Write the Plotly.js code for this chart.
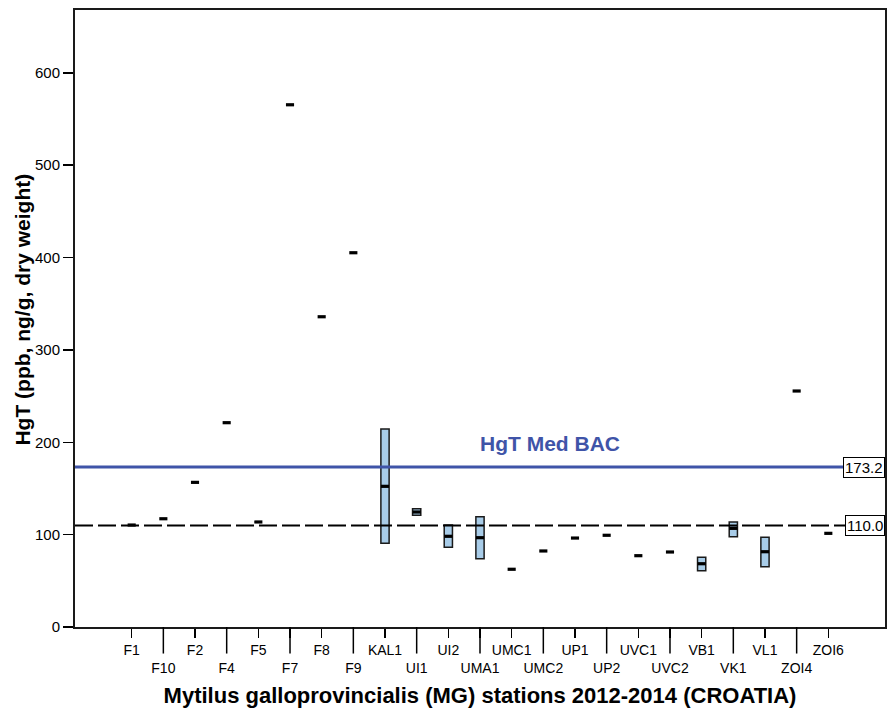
<!DOCTYPE html>
<html>
<head>
<meta charset="utf-8">
<script src="https://cdn.plot.ly/plotly-3.0.1.min.js"></script>
<style>html,body{margin:0;padding:0;background:#fff;}#chart{width:893px;height:714px;}</style>
</head>
<body>
<div id="chart"></div>
<script>
// Stations (x categories)
var stations = ["F1","F10","F2","F4","F5","F7","F8","F9","KAL1","UI1","UI2","UMA1","UMC1","UMC2","UP1","UP2","UVC1","UVC2","VB1","VK1","VL1","ZOI4","ZOI6"];
// Median HgT (ppb, ng/g dry weight)
var medians = [110.4,117.2,156.6,221.2,113.7,565.4,335.9,405.2,152.3,124.5,98.2,96.7,62.5,82.3,96.3,99.3,77.2,81.2,68.5,106.8,81.5,255.5,101.4];
// Box lower / upper edges (null = single value)
var boxLow  = [null,null,null,null,null,null,null,null,90.6,120.9,86.3,73.9,null,null,null,null,null,null,60.9,97.7,65.3,null,null];
var boxHigh = [null,null,null,null,null,null,null,null,214.3,128.1,110.4,119.4,null,null,null,null,null,null,75.4,113.7,97.1,null,null];
// Reference lines
var refValues = [173.2, 110.0];
var refLabels = ["173.2", "110.0"];
var bacLabel = "HgT Med BAC";
var xTitle = "Mytilus galloprovincialis (MG) stations 2012-2014 (CROATIA)";
var yTitle = "HgT (ppb, ng/g, dry weight)";

var boxX = [], boxBase = [], boxLen = [];
for (var i = 0; i < stations.length; i++) {
  if (boxLow[i] !== null) {
    boxX.push(stations[i]);
    boxBase.push(boxLow[i]);
    boxLen.push(boxHigh[i] - boxLow[i]);
  }
}

var tickText = stations.map(function(s, i){ return i % 2 === 1 ? "<br>" + s : s; });

var traces = [
  {
    type: "bar", x: boxX, y: boxLen, base: boxBase, width: 0.26,
    marker: {color: "rgb(168,204,232)", line: {color: "#1a1a1a", width: 1.5}},
    hoverinfo: "skip", showlegend: false
  },
  {
    type: "scatter", mode: "markers", x: stations, y: medians,
    marker: {symbol: "line-ew", size: 5.8, color: "#000", line: {color: "#000", width: 3.2}},
    showlegend: false
  }
];

var shapes = [
  {type: "line", xref: "paper", yref: "y", x0: 0, x1: 1, y0: refValues[0], y1: refValues[0],
   line: {color: "rgb(63,84,168)", width: 3}},
  {type: "line", xref: "paper", yref: "y", x0: 0, x1: 1, y0: refValues[1], y1: refValues[1],
   line: {color: "#000", width: 2, dash: "18px,5px"}}
];
for (var j = 0; j < stations.length; j++) {
  if (j % 2 === 1) {
    shapes.push({type: "line", xref: "x", yref: "paper", x0: j, x1: j, y0: 0, y1: -0.043,
      line: {color: "#000", width: 1.5}});
  }
}

var annotations = [
  {xref: "paper", yref: "y", x: 1, y: refValues[0], xanchor: "right", yanchor: "middle",
   text: refLabels[0], showarrow: false, bgcolor: "#fff", bordercolor: "#000", borderwidth: 1, borderpad: 1,
   font: {family: "Liberation Sans, Arial, sans-serif", size: 15, color: "#000"}},
  {xref: "paper", yref: "y", x: 1, y: refValues[1], xanchor: "right", yanchor: "middle",
   text: refLabels[1], showarrow: false, bgcolor: "#fff", bordercolor: "#000", borderwidth: 1, borderpad: 1,
   font: {family: "Liberation Sans, Arial, sans-serif", size: 15, color: "#000"}},
  {xref: "paper", yref: "y", x: 0.586, y: 199, xanchor: "center", yanchor: "middle",
   text: "<b>" + bacLabel + "</b>", showarrow: false,
   font: {family: "Liberation Sans, Arial, sans-serif", size: 21, color: "rgb(63,84,168)"}},
  {xref: "paper", yref: "paper", x: -0.065, y: 0.515, xanchor: "center", yanchor: "middle",
   textangle: -90, text: "<b>" + yTitle + "</b>", showarrow: false,
   font: {family: "Liberation Sans, Arial, sans-serif", size: 21, color: "#000"}}
];

var layout = {
  width: 893, height: 714,
  margin: {l: 75, r: 8, t: 10, b: 87},
  paper_bgcolor: "#fff", plot_bgcolor: "#fff",
  font: {family: "Liberation Sans, Arial, sans-serif", color: "#000"},
  showlegend: false,
  bargap: 0,
  xaxis: {
    type: "category", categoryorder: "array", categoryarray: stations,
    range: [-1.79, 23.79],
    tickmode: "array", tickvals: stations, ticktext: tickText,
    ticks: "outside", ticklen: 9, tickwidth: 1.5, tickcolor: "#000",
    showline: true, linecolor: "#1a1a1a", linewidth: 2, mirror: true,
    showgrid: false, zeroline: false, tickangle: 0,
    tickfont: {size: 14, color: "#000"},
    title: {text: "<b>" + xTitle + "</b>", font: {size: 22, color: "#000"}, standoff: 13}
  },
  yaxis: {
    range: [0, 668],
    tickmode: "array", tickvals: [0,100,200,300,400,500,600],
    ticks: "outside", ticklen: 10, tickwidth: 1.5, tickcolor: "#000",
    showline: true, linecolor: "#1a1a1a", linewidth: 2, mirror: true,
    showgrid: false, zeroline: false,
    tickfont: {size: 15, color: "#000"}
  },
  shapes: shapes,
  annotations: annotations
};

Plotly.newPlot("chart", traces, layout, {displayModeBar: false, staticPlot: true});
</script>
</body>
</html>
